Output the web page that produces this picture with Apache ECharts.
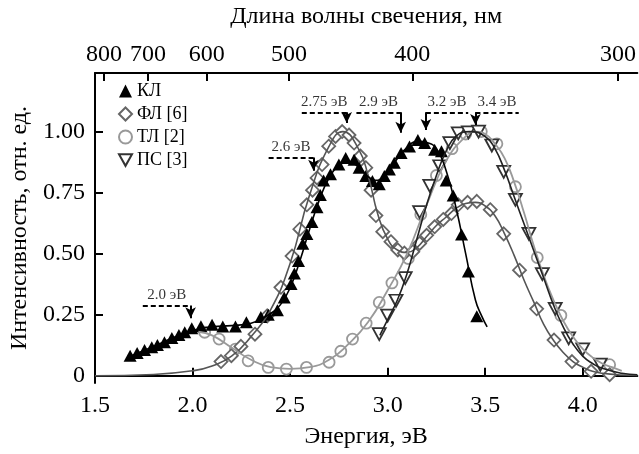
<!DOCTYPE html>
<html>
<head>
<meta charset="utf-8">
<script src="https://cdn.jsdelivr.net/npm/echarts@6/dist/echarts.min.js"></script>
<style>
  html, body { margin: 0; padding: 0; background: #fff; }
  #chart { width: 639px; height: 454px; }
</style>
</head>
<body>
<div id="chart"></div>
<script>
// measured points, [energy eV, relative intensity]
const clPoints = [[1.68,0.082],[1.716,0.093],[1.754,0.105],[1.791,0.116],[1.82,0.126],[1.856,0.137],[1.894,0.154],[1.93,0.167],[1.96,0.178],[1.996,0.194],[2.043,0.202],[2.10,0.209],[2.155,0.201],[2.22,0.201],[2.276,0.219],[2.35,0.24],[2.388,0.25],[2.435,0.268],[2.47,0.32],[2.505,0.376],[2.522,0.419],[2.543,0.47],[2.565,0.54],[2.586,0.58],[2.612,0.63],[2.638,0.69],[2.655,0.74],[2.672,0.80],[2.707,0.825],[2.75,0.865],[2.785,0.892],[2.828,0.885],[2.854,0.852],[2.888,0.818],[2.922,0.798],[2.957,0.784],[2.983,0.818],[3.009,0.845],[3.034,0.872],[3.069,0.912],[3.112,0.939],[3.155,0.966],[3.19,0.953],[3.241,0.926],[3.276,0.919],[3.30,0.80],[3.336,0.738],[3.379,0.578],[3.414,0.427],[3.457,0.243]];
const flPoints = [[2.146,0.058],[2.199,0.082],[2.248,0.12],[2.32,0.17],[2.383,0.245],[2.453,0.362],[2.51,0.49],[2.55,0.60],[2.586,0.70],[2.615,0.76],[2.638,0.81],[2.664,0.865],[2.698,0.94],[2.733,0.98],[2.767,1.0],[2.802,0.986],[2.828,0.953],[2.86,0.90],[2.888,0.852],[2.915,0.76],[2.94,0.656],[2.975,0.59],[3.017,0.549],[3.052,0.515],[3.086,0.502],[3.129,0.508],[3.164,0.542],[3.20,0.575],[3.241,0.61],[3.285,0.64],[3.327,0.664],[3.362,0.70],[3.41,0.71],[3.457,0.714],[3.526,0.68],[3.595,0.581],[3.676,0.432],[3.764,0.274],[3.853,0.146],[3.945,0.058],[4.043,0.018],[4.138,0.004]];
const tlPoints = [[2.062,0.178],[2.136,0.15],[2.22,0.109],[2.285,0.061],[2.388,0.034],[2.481,0.027],[2.584,0.034],[2.70,0.055],[2.76,0.10],[2.82,0.15],[2.89,0.215],[2.957,0.30],[3.022,0.38],[3.106,0.48],[3.17,0.66],[3.25,0.82],[3.33,0.93],[3.40,0.99],[3.48,1.0],[3.56,0.95],[3.655,0.774],[3.767,0.484],[3.888,0.247],[4.138,0.045]];
const psPoints = [[2.957,0.17],[3.0,0.246],[3.043,0.307],[3.09,0.40],[3.164,0.67],[3.216,0.778],[3.267,0.858],[3.319,0.953],[3.362,0.993],[3.414,0.997],[3.466,1.0],[3.534,0.943],[3.595,0.835],[3.655,0.72],[3.724,0.581],[3.793,0.416],[3.859,0.274],[3.928,0.153],[4.0,0.108],[4.09,0.045]];

// fitted curves
const clCurve = [[1.68,0.08],[1.8,0.12],[1.9,0.155],[2.0,0.185],[2.1,0.2],[2.2,0.205],[2.3,0.215],[2.4,0.255],[2.45,0.29],[2.5,0.36],[2.55,0.47],[2.6,0.6],[2.65,0.72],[2.7,0.81],[2.75,0.86],[2.8,0.875],[2.85,0.855],[2.9,0.815],[2.95,0.8],[3.0,0.83],[3.05,0.89],[3.1,0.935],[3.15,0.96],[3.2,0.955],[3.25,0.93],[3.3,0.84],[3.35,0.69],[3.4,0.5],[3.45,0.31],[3.483,0.243],[3.51,0.2]];
const flCurve = [[1.5,0.0],[1.8,0.005],[2.0,0.02],[2.1,0.04],[2.2,0.08],[2.3,0.16],[2.4,0.27],[2.5,0.46],[2.6,0.74],[2.7,0.94],[2.77,1.0],[2.85,0.93],[2.9,0.82],[2.95,0.66],[3.0,0.56],[3.05,0.515],[3.1,0.505],[3.15,0.525],[3.2,0.57],[3.25,0.615],[3.3,0.65],[3.35,0.685],[3.4,0.705],[3.45,0.71],[3.5,0.695],[3.55,0.655],[3.6,0.58],[3.65,0.49],[3.7,0.39],[3.75,0.3],[3.8,0.21],[3.85,0.145],[3.9,0.095],[3.95,0.058],[4.0,0.035],[4.05,0.018],[4.1,0.01],[4.2,0.003],[4.28,0.001]];
const tlCurve = [[2.03,0.18],[2.1,0.165],[2.2,0.115],[2.3,0.065],[2.4,0.035],[2.5,0.028],[2.6,0.035],[2.7,0.065],[2.8,0.13],[2.9,0.22],[3.0,0.35],[3.1,0.5],[3.2,0.7],[3.3,0.88],[3.4,0.98],[3.45,1.0],[3.5,0.99],[3.55,0.95],[3.6,0.89],[3.65,0.79],[3.7,0.665],[3.75,0.53],[3.8,0.41],[3.85,0.31],[3.9,0.225],[3.95,0.16],[4.0,0.11],[4.05,0.075],[4.1,0.05],[4.15,0.035],[4.2,0.02]];
const psCurve = [[2.96,0.165],[3.0,0.23],[3.05,0.31],[3.1,0.42],[3.15,0.56],[3.2,0.7],[3.25,0.82],[3.3,0.92],[3.35,0.98],[3.42,1.0],[3.5,0.98],[3.55,0.93],[3.6,0.84],[3.65,0.73],[3.7,0.62],[3.75,0.51],[3.8,0.4],[3.85,0.29],[3.9,0.2],[3.95,0.13],[4.0,0.08],[4.05,0.05],[4.1,0.03],[4.2,0.01],[4.28,0.004]];

const energyTicks = [1.5, 2.0, 2.5, 3.0, 3.5, 4.0];
const wavelengthTicks = [800, 700, 600, 500, 400, 300];
const intensityTicks = [0, 0.25, 0.5, 0.75, 1.0];

// peak marks: label, dashed line from..to at level, arrow tip
const peakNotes = [
  { text: '2.0 эВ', from: 1.745, to: 1.99, level: 0.287, tip: 0.235, arrowAt: 'to' },
  { text: '2.6 эВ', from: 2.39, to: 2.62, level: 0.894, tip: 0.84, arrowAt: 'to' },
  { text: '2.75 эВ', from: 2.56, to: 2.79, level: 1.079, tip: 1.035, arrowAt: 'to' },
  { text: '2.9 эВ', from: 2.84, to: 3.067, level: 1.079, tip: 0.995, arrowAt: 'to' },
  { text: '3.2 эВ', from: 3.196, to: 3.413, level: 1.079, tip: 1.006, arrowAt: 'from' },
  { text: '3.4 эВ', from: 3.45, to: 3.672, level: 1.079, tip: 1.027, arrowAt: 'from' }
];

const EV_NM = 1239.84;
const FONT = 'Liberation Serif';
const xMin = 1.5, xMax = 4.28;
// the wavelength scale in the figure is drawn a little wider than the energy one
const topMin = 1.505, topMax = 4.23;

const chart = echarts.init(document.getElementById('chart'));

const noteLines = [];
const noteLabels = [];
peakNotes.forEach(n => {
  noteLines.push([{ coord: [n.from, n.level] }, { coord: [n.to, n.level] }]);
  const ax = n.arrowAt === 'to' ? n.to : n.from;
  noteLines.push([
    { coord: [ax, n.level], symbol: 'none', lineStyle: { type: 'solid' } },
    { coord: [ax, n.tip], symbol: 'arrow', symbolSize: [8, 11], lineStyle: { type: 'solid' } }
  ]);
  noteLabels.push({ name: n.text, value: [(n.from + n.to) / 2, n.level] });
});

const tickStyle = { show: true, inside: true, length: 8, lineStyle: { color: '#000', width: 2 } };
const lineStyleAxis = { show: true, lineStyle: { color: '#000', width: 2 } };
const nameStyle = { fontFamily: FONT, fontSize: 24, color: '#000' };
const labelStyle = { fontFamily: FONT, fontSize: 24, color: '#000' };
const topVals = wavelengthTicks.map(w => EV_NM / w);

chart.setOption({
  animation: false,
  backgroundColor: '#fff',
  grid: { left: 95, right: 0, top: 73, bottom: 67 },
  legend: {
    orient: 'vertical',
    left: 113,
    top: 77,
    itemGap: 5,
    itemWidth: 13,
    itemHeight: 13,
    textStyle: { fontFamily: FONT, fontSize: 18, color: '#000', lineHeight: 18 },
    data: ['КЛ', 'ФЛ [6]', 'ТЛ [2]', 'ПС [3]']
  },
  xAxis: [
    {
      type: 'value', min: xMin, max: xMax, position: 'bottom',
      name: 'Энергия, эВ', nameLocation: 'middle', nameGap: 42, nameTextStyle: nameStyle,
      axisLine: lineStyleAxis,
      axisTick: Object.assign({ customValues: energyTicks }, tickStyle),
      axisLabel: Object.assign({ customValues: energyTicks, margin: 11, formatter: v => v.toFixed(1) }, labelStyle),
      splitLine: { show: false }
    },
    {
      type: 'value', min: topMin, max: topMax, position: 'top',
      name: 'Длина волны свечения, нм', nameLocation: 'middle', nameGap: 44, nameTextStyle: nameStyle,
      axisLine: lineStyleAxis,
      axisTick: Object.assign({ customValues: topVals }, tickStyle),
      axisLabel: Object.assign({ customValues: topVals, margin: 6, formatter: v => String(Math.round(EV_NM / v)) }, labelStyle),
      splitLine: { show: false }
    }
  ],
  yAxis: {
    type: 'value',
    min: -0.03,
    max: 1.24,
    name: 'Интенсивность, отн. ед.',
    nameLocation: 'middle',
    nameGap: 56,
    nameTextStyle: nameStyle,
    axisLine: lineStyleAxis,
    axisTick: Object.assign({ customValues: intensityTicks }, tickStyle),
    axisLabel: Object.assign({
      customValues: intensityTicks, margin: 10,
      formatter: v => (v === 0 ? '0' : v.toFixed(2))
    }, labelStyle),
    splitLine: { show: false }
  },
  series: [
    { type: 'line', data: flCurve, smooth: true, showSymbol: false, lineStyle: { color: '#555', width: 1.6 }, silent: true },
    { type: 'line', data: tlCurve, smooth: true, showSymbol: false, lineStyle: { color: '#999', width: 1.8 }, silent: true },
    { type: 'line', data: psCurve, smooth: true, showSymbol: false, lineStyle: { color: '#222', width: 1.6 }, silent: true },
    { type: 'line', data: clCurve, smooth: true, showSymbol: false, lineStyle: { color: '#000', width: 1.6 }, silent: true },
    {
      name: 'ТЛ [2]', type: 'scatter', data: tlPoints, symbol: 'circle', symbolSize: 11,
      itemStyle: { color: '#fff', borderColor: '#999', borderWidth: 1.8, opacity: 1 }
    },
    {
      name: 'ФЛ [6]', type: 'scatter', data: flPoints, symbol: 'diamond', symbolSize: 13,
      itemStyle: { color: '#fff', borderColor: '#666', borderWidth: 1.8, opacity: 1 }
    },
    {
      name: 'ПС [3]', type: 'scatter', data: psPoints, symbol: 'path://M0,0L10,0L5,9Z', symbolSize: [13, 12],
      itemStyle: { color: '#fff', borderColor: '#333', borderWidth: 1.8, opacity: 1 }
    },
    {
      name: 'КЛ', type: 'scatter', data: clPoints, symbol: 'triangle', symbolSize: [13, 12],
      itemStyle: { color: '#000', opacity: 1 }
    },
    {
      type: 'scatter', data: noteLabels, symbolSize: 0, silent: true,
      label: {
        show: true, position: 'top', distance: 3, formatter: p => p.name,
        fontFamily: FONT, fontSize: 15, color: '#000'
      },
      markLine: {
        silent: true,
        symbol: 'none',
        label: { show: false },
        lineStyle: { color: '#000', width: 2, type: [5, 3] },
        data: noteLines
      }
    }
  ]
});
</script>
</body>
</html>
